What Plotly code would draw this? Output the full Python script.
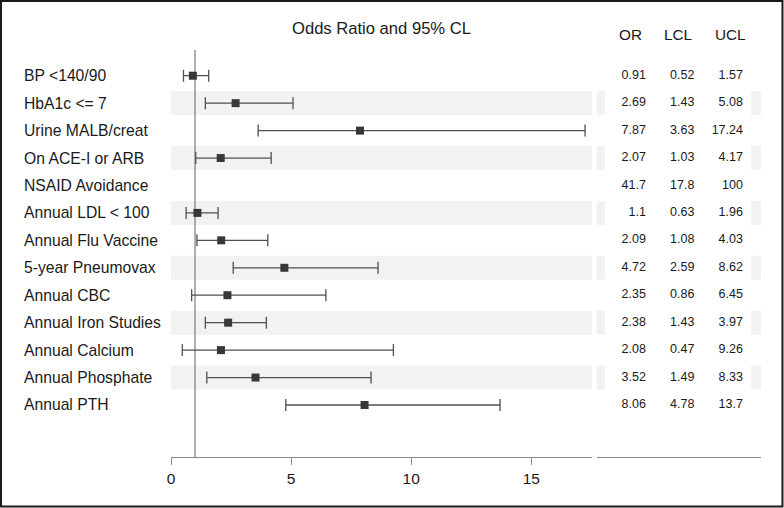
import plotly.graph_objects as go

# ---- data ----
labels = ["BP <140/90", "HbA1c <= 7", "Urine MALB/creat", "On ACE-I or ARB",
          "NSAID Avoidance", "Annual LDL < 100", "Annual Flu Vaccine",
          "5-year Pneumovax", "Annual CBC", "Annual Iron Studies",
          "Annual Calcium", "Annual Phosphate", "Annual PTH"]
odds_ratio = [0.91, 2.69, 7.87, 2.07, 41.7, 1.1, 2.09, 4.72, 2.35, 2.38, 2.08, 3.52, 8.06]
lcl = [0.52, 1.43, 3.63, 1.03, 17.8, 0.63, 1.08, 2.59, 0.86, 1.43, 0.47, 1.49, 4.78]
ucl = [1.57, 5.08, 17.24, 4.17, 100, 1.96, 4.03, 8.62, 6.45, 3.97, 9.26, 8.33, 13.7]
columns = ["OR", "LCL", "UCL"]
x_ticks = [0, 5, 10, 15]
title_text = "Odds Ratio and 95% CL"

rows = list(range(len(labels)))
FONT = "Liberation Sans, Arial, sans-serif"
TXT = "#1a1a1a"
BAND = "#f2f2f2"
AXC = "#8a8a8a"

fig = go.Figure()

# CI bars + markers
fig.add_trace(go.Scatter(
    x=odds_ratio, y=rows, mode="markers",
    marker=dict(symbol="square", size=8, color="#383838"),
    error_x=dict(type="data", symmetric=False,
                 array=[u - o for u, o in zip(ucl, odds_ratio)],
                 arrayminus=[o - l for o, l in zip(odds_ratio, lcl)],
                 color="#505050", thickness=1.3, width=6),
    xaxis="x", yaxis="y", showlegend=False, hoverinfo="skip"))

# table text
table = {"OR": odds_ratio, "LCL": lcl, "UCL": ucl}
for col in columns:
    fig.add_trace(go.Scatter(
        x=[col] * len(rows), y=rows, mode="text",
        text=[f"{v:g}" for v in table[col]],
        textposition="middle left",
        textfont=dict(family=FONT, size=12.5, color=TXT),
        xaxis="x2", yaxis="y", showlegend=False, hoverinfo="skip",
        cliponaxis=False))

shapes = []
# alternating bands
for i in rows:
    if i % 2 == 1:
        shapes.append(dict(type="rect", xref="x domain", yref="y", x0=0, x1=1,
                           y0=i - 0.437, y1=i + 0.437, fillcolor=BAND,
                           line=dict(width=0), layer="below"))
        shapes.append(dict(type="rect", xref="x2 domain", yref="y", x0=0, x1=0.05,
                           y0=i - 0.437, y1=i + 0.437, fillcolor=BAND,
                           line=dict(width=0), layer="below"))
        shapes.append(dict(type="rect", xref="x2 domain", yref="y", x0=0.94, x1=1,
                           y0=i - 0.437, y1=i + 0.437, fillcolor=BAND,
                           line=dict(width=0), layer="below"))
# reference line at OR = 1
shapes.append(dict(type="line", xref="x", yref="y domain", x0=1, x1=1, y0=0, y1=1,
                   line=dict(color="#7a7a7a", width=1.2), layer="below"))
# outer border
shapes.append(dict(type="rect", xref="paper", yref="paper",
                   x0=-0.2881, x1=1.0364, y0=-0.1216, y1=1.1204,
                   line=dict(color="#1a1a1a", width=2)))

annotations = []
for i, lab in zip(rows, labels):
    annotations.append(dict(text=lab, xref="paper", yref="y", x=-0.2525, y=i,
                            xanchor="left", yanchor="middle", showarrow=False,
                            font=dict(family=FONT, size=15.7, color=TXT)))
annotations.append(dict(text=title_text, xref="x domain", yref="paper", x=0.5, y=1.0516,
                        xanchor="center", yanchor="middle", showarrow=False,
                        font=dict(family=FONT, size=16.6, color=TXT)))
for col, sh in zip(columns, [-15, -16, -12]):
    annotations.append(dict(text=col, xref="x2", yref="paper", x=col, y=1.0393,
                            xanchor="center", yanchor="middle", xshift=sh,
                            showarrow=False,
                            font=dict(family=FONT, size=15.3, color=TXT)))

fig.update_layout(
    width=784, height=508,
    margin=dict(l=171, r=23, t=50, b=51, pad=0),
    paper_bgcolor="white", plot_bgcolor="white",
    xaxis=dict(domain=[0, 0.7136], range=[0, 17.53], tickvals=x_ticks,
               showgrid=False, zeroline=False, showline=True, linecolor=AXC,
               linewidth=1.3, ticks="outside", ticklen=7, tickcolor=AXC,
               tickfont=dict(family=FONT, size=15.5, color=TXT), anchor="y"),
    xaxis2=dict(domain=[0.7215, 1], type="category", categoryarray=columns,
                categoryorder="array", range=[-1.016, 2.372],
                showgrid=False, zeroline=False, showline=True, linecolor=AXC,
                linewidth=1.3, showticklabels=False, ticks="", anchor="y"),
    yaxis=dict(range=[13.896, -0.937], visible=False, showgrid=False, zeroline=False),
    shapes=shapes, annotations=annotations,
)

fig.write_html("out.html",
               config={"displayModeBar": False},
               post_script="document.body.style.margin='0';document.body.style.overflow='hidden';")
